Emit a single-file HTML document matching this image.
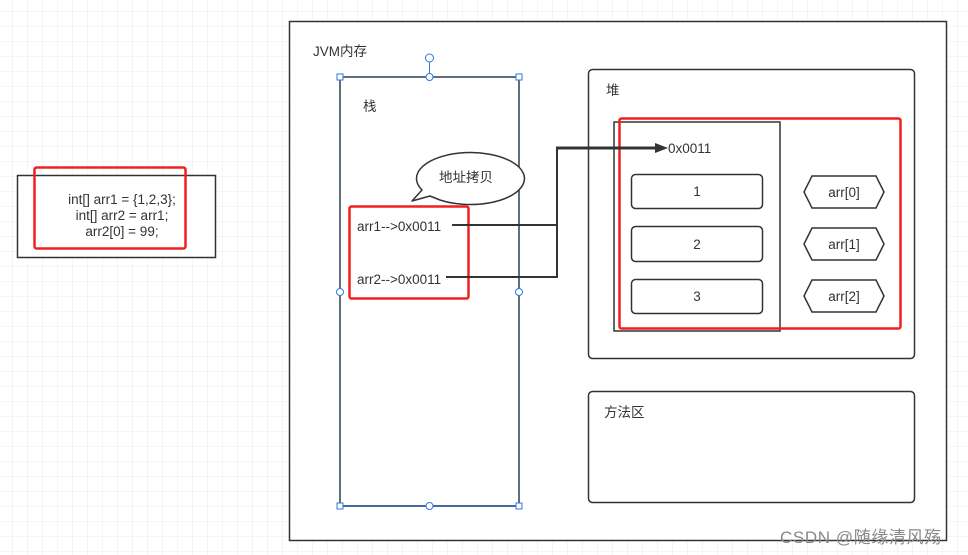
<!DOCTYPE html>
<html><head><meta charset="utf-8"><style>
html,body{margin:0;padding:0;background:#fff;}
svg{display:block;}
text{font-family:"Liberation Sans","Noto Sans CJK SC",sans-serif;fill:#333;font-size:13.5px;}
</style></head><body>
<svg width="968" height="555" viewBox="0 0 968 555" xmlns="http://www.w3.org/2000/svg">
<defs>
<pattern id="g" x="12" y="11" width="15" height="15" patternUnits="userSpaceOnUse">
<path d="M0 0H15M0 0V15" stroke="#ebebeb" stroke-width="1" fill="none"/>
</pattern>
</defs>
<rect width="968" height="555" fill="#fff"/>
<rect width="968" height="555" fill="url(#g)"/>

<rect x="17.5" y="175.5" width="198" height="82" fill="#fff" stroke="#333" stroke-width="1.5"/>
<rect x="34.5" y="167.5" width="151" height="81" rx="2" fill="none" stroke="#f02020" stroke-width="2.5"/>
<text x="122" y="204" text-anchor="middle">int[] arr1 = {1,2,3};</text>
<text x="122" y="220" text-anchor="middle">int[] arr2 = arr1;</text>
<text x="122" y="236" text-anchor="middle">arr2[0] = 99;</text>

<rect x="289.5" y="21.5" width="657" height="519" fill="#fff" stroke="#333" stroke-width="1.5"/>
<text x="313" y="56">JVM内存</text>

<rect x="340" y="77" width="179" height="429" fill="#fff" stroke="#2c3e50" stroke-width="1.5"/>
<line x1="340" y1="506" x2="519" y2="506" stroke="#2a5a9a" stroke-width="1.5"/>
<text x="363" y="111">栈</text>
<line x1="429.5" y1="58" x2="429.5" y2="77" stroke="#2a7ae2"/>
<circle cx="429.5" cy="58" r="4" fill="#fff" stroke="#2a7ae2"/>
<g fill="#fff" stroke="#2a7ae2">
<rect x="337" y="74" width="6" height="6"/><rect x="516" y="74" width="6" height="6"/>
<rect x="337" y="503" width="6" height="6"/><rect x="516" y="503" width="6" height="6"/>
<circle cx="429.5" cy="77" r="3.5"/><circle cx="429.5" cy="506" r="3.5"/>
<circle cx="340" cy="292" r="3.5"/><circle cx="519" cy="292" r="3.5"/>
</g>

<path d="M430 196 L412 201 L422 190 A54 26 0 1 1 440 200 Z" fill="#fff" stroke="#333" stroke-width="1.5" stroke-linejoin="round"/>
<text x="466" y="182" text-anchor="middle">地址拷贝</text>

<rect x="349.5" y="206.5" width="119" height="92" rx="2" fill="none" stroke="#f02020" stroke-width="2.5"/>
<text x="357" y="231">arr1--&gt;0x0011</text>
<text x="357" y="284">arr2--&gt;0x0011</text>

<rect x="588.5" y="69.5" width="326" height="289" rx="4" fill="#fff" stroke="#333" stroke-width="1.5"/>
<text x="606" y="95">堆</text>
<rect x="614" y="122" width="166" height="209" fill="none" stroke="#333" stroke-width="1.5"/>
<text x="668" y="153">0x0011</text>
<g fill="#fff" stroke="#333" stroke-width="1.5">
<rect x="631.5" y="174.5" width="131" height="34" rx="4"/>
<rect x="631.5" y="226.5" width="131" height="35" rx="4"/>
<rect x="631.5" y="279.5" width="131" height="34" rx="4"/>
<polygon points="812,176 876,176 884,192 876,208 812,208 804,192"/>
<polygon points="812,228 876,228 884,244 876,260 812,260 804,244"/>
<polygon points="812,280 876,280 884,296 876,312 812,312 804,296"/>
</g>
<text x="697" y="196" text-anchor="middle">1</text>
<text x="697" y="249" text-anchor="middle">2</text>
<text x="697" y="301" text-anchor="middle">3</text>
<text x="844" y="197" text-anchor="middle">arr[0]</text>
<text x="844" y="249" text-anchor="middle">arr[1]</text>
<text x="844" y="301" text-anchor="middle">arr[2]</text>
<rect x="619.5" y="118.5" width="281" height="210" rx="2" fill="none" stroke="#f02020" stroke-width="2.5"/>

<polyline points="452,225 557,225 557,148" fill="none" stroke="#333" stroke-width="2"/>
<polyline points="446,277 557,277 557,225" fill="none" stroke="#333" stroke-width="2"/>
<line x1="556" y1="148" x2="656" y2="148" stroke="#333" stroke-width="3"/>
<polygon points="655,143 668,148 655,153" fill="#333"/>

<rect x="588.5" y="391.5" width="326" height="111" rx="4" fill="#fff" stroke="#333" stroke-width="1.5"/>
<text x="604" y="417">方法区</text>

<text x="780" y="543" style="font-size:17px;fill:#888;letter-spacing:0.6px;">CSDN @随缘清风殇</text>
</svg>
</body></html>
